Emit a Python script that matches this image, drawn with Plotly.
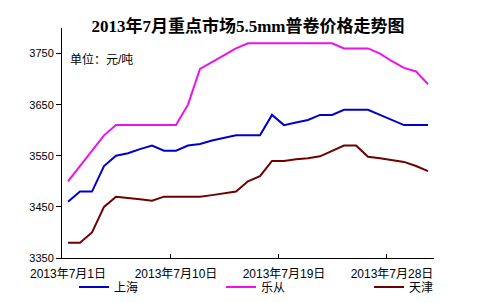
import plotly.graph_objects as go

days = list(range(1, 32))
tick_days = [1, 10, 19, 28]
tick_labels = ["2013年7月1日", "2013年7月10日", "2013年7月19日", "2013年7月28日"]

shanghai = [3460, 3480, 3480, 3530, 3550, 3555, 3563, 3570, 3560, 3560,
            3570, 3573, 3580, 3585, 3590, 3590, 3590, 3630, 3610, 3615,
            3620, 3630, 3630, 3640, 3640, 3640, 3630, 3620, 3610, 3610, 3610]
lecong = [3500, 3530, 3560, 3590, 3610, 3610, 3610, 3610, 3610, 3610,
          3650, 3720, 3733, 3747, 3760, 3770, 3770, 3770, 3770, 3770,
          3770, 3770, 3770, 3760, 3760, 3760, 3750, 3735, 3722, 3715, 3690]
tianjin = [3380, 3380, 3400, 3450, 3470, 3468, 3465, 3462, 3470, 3470,
           3470, 3470, 3473, 3477, 3480, 3500, 3510, 3540, 3540, 3543,
           3545, 3549, 3560, 3570, 3570, 3548, 3545, 3541, 3538, 3530, 3520]

series = [("上海", shanghai, "#0000CC", "legend"),
          ("乐从", lecong, "#EE11EE", "legend2"),
          ("天津", tianjin, "#6E0000", "legend3")]

cjk = "Liberation Sans, Noto Sans CJK SC, sans-serif"

fig = go.Figure()
for name, vals, color, lg in series:
    fig.add_trace(go.Scatter(x=days, y=vals, name=name, mode="lines", legend=lg,
                             line=dict(color=color, width=2)))

def legend_at(px):
    return dict(orientation="h", x=px / 504, xref="container", xanchor="left",
                y=1 - 287 / 303, yref="container", yanchor="middle",
                itemwidth=30, font=dict(family=cjk, size=12, color="black"),
                bgcolor="rgba(0,0,0,0)")

fig.update_layout(
    width=504, height=303,
    margin=dict(l=62, r=70, t=28, b=45, autoexpand=False),
    paper_bgcolor="white", plot_bgcolor="white",
    title=dict(text="<b>2013年7月重点市场5.5mm普卷价格走势图</b>",
               x=0.5, xref="paper", xanchor="center", y=1 - 26 / 303, yanchor="middle",
               font=dict(family="Liberation Serif, Noto Sans CJK SC, serif", size=17, color="black")),
    showlegend=True,
    legend=legend_at(74), legend2=legend_at(221), legend3=legend_at(369),
    font=dict(family=cjk, size=11, color="black"),
)

fig.update_xaxes(range=[0.5, 31.5], showgrid=False, zeroline=False,
                 showline=True, linecolor="black", linewidth=1,
                 tickmode="array", tickvals=tick_days, ticktext=tick_labels,
                 ticks="outside", ticklen=5, tickcolor="rgba(0,0,0,0)",
                 tickfont=dict(family=cjk, size=12), automargin=False,
                 minor=dict(tickmode="array", tickvals=[9.5, 18.5, 27.5],
                            ticks="inside", ticklen=4, tickcolor="black", showgrid=False))
fig.update_yaxes(range=[3350, 3800], showgrid=False, zeroline=False,
                 showline=True, linecolor="black", linewidth=1,
                 tickmode="array", tickvals=[3350, 3450, 3550, 3650, 3750],
                 ticks="outside", ticklen=5, tickcolor="black", automargin=False,
                 tickfont=dict(family=cjk, size=11))

fig.add_annotation(text="单位：元/吨", xref="paper", yref="paper",
                   x=6 / 372, y=(258 - 60) / 230, xanchor="left", yanchor="middle",
                   showarrow=False, font=dict(family=cjk, size=12, color="black"))

fig.write_html("out.html")
